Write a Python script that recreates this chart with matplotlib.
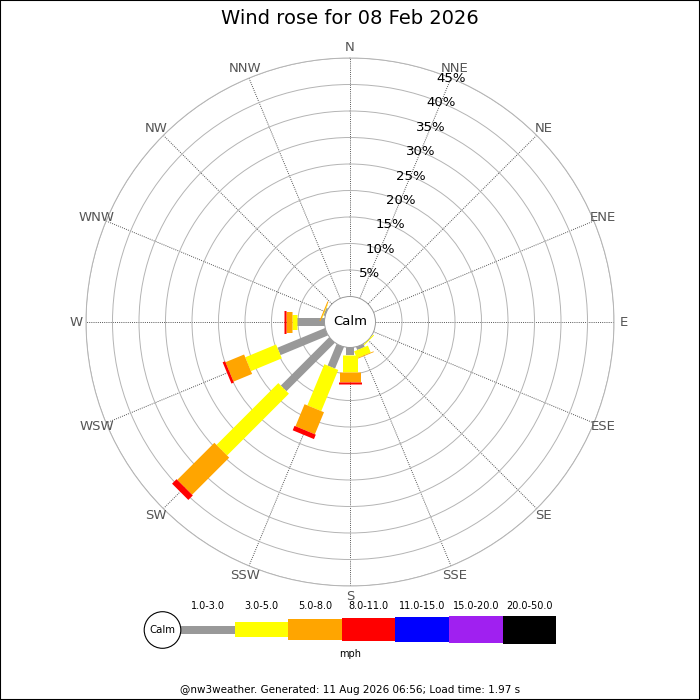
"""Wind rose for 08 Feb 2026, redrawn with matplotlib."""
import matplotlib

matplotlib.use("Agg")
import matplotlib.pyplot as plt
import numpy as np
from matplotlib.patches import Circle, Rectangle

# ---- data -------------------------------------------------------------
directions = ["N", "NNE", "NE", "ENE", "E", "ESE", "SE", "SSE",
              "S", "SSW", "SW", "WSW", "W", "WNW", "NW", "NNW"]
speed_bins = ["1.0-3.0", "3.0-5.0", "5.0-8.0", "8.0-11.0",
              "11.0-15.0", "15.0-20.0", "20.0-50.0"]
bin_colors = ["#999999", "#ffff00", "#ffa500", "#ff0000",
              "#0000ff", "#a020f0", "#000000"]

# percent of time per direction, one list per speed bin
pct_1_3 = [0, 0, 0, 0, 0, 0, 0.0, 0.6, 1.5, 4.4, 12.9, 9.7, 5.2, 0.3, 0, 0]
pct_3_5 = [0, 0, 0, 0, 0, 0, 0.2, 1.4, 3.2, 8.4, 16.5, 6.3, 1.0, 0.1, 0, 0]
pct_5_8 = [0, 0, 0, 0, 0, 0, 0, 0.15, 1.9, 4.5, 9.9, 3.8, 1.0, 0.2, 0, 0]
pct_8_11 = [0, 0, 0, 0, 0, 0, 0, 0, 0.3, 0.9, 1.2, 0.5, 0.5, 0, 0, 0]
pct_11_15 = [0] * 16
pct_15_20 = [0] * 16
pct_20_50 = [0] * 16

ring_pcts = [5, 10, 15, 20, 25, 30, 35, 40, 45]
title = "Wind rose for 08 Feb 2026"
footer = "@nw3weather. Generated: 11 Aug 2026 06:56; Load time: 1.97 s"

# ---- figure -----------------------------------------------------------
fig = plt.figure(figsize=(7, 7), dpi=100)
fig.patches.append(Rectangle((0, 0), 1, 1, transform=fig.transFigure,
                             fill=False, edgecolor="black", lw=1.5))

ax = fig.add_axes([86 / 700, 114 / 700, 528 / 700, 528 / 700],
                  projection="polar")
ax.set_theta_zero_location("N")
ax.set_theta_direction(-1)
ax.set_ylim(0, 45)
ax.set_rorigin(-4.81)

thetas = np.deg2rad(np.arange(16) * 22.5)
ax.set_xticks(thetas)
ax.set_xticklabels([])
ax.set_yticks(ring_pcts)
ax.set_yticklabels([])
ax.yaxis.grid(True, color="#b4b4b4", lw=0.7, ls="-")
ax.xaxis.grid(True, color="#555555", lw=0.7, ls=(0, (1, 1.2)))
ax.spines["polar"].set_color("#b4b4b4")
ax.spines["polar"].set_linewidth(0.7)
ax.spines["inner"].set_color("#999999")
ax.spines["inner"].set_linewidth(0.7)

# compass labels
for th, name in zip(thetas, directions):
    ax.text(th, 46.9, name, ha="center", va="center", fontsize=9.5,
            color="#555555", clip_on=False)

# percent labels along NNE
for p in ring_pcts:
    ax.text(np.deg2rad(22.5), p, f"{p}%", ha="center", va="center",
            fontsize=9.5, color="black", zorder=4)

# petals: stacked thick radial lines, wider for faster bins
all_bins = [pct_1_3, pct_3_5, pct_5_8, pct_8_11, pct_11_15, pct_15_20, pct_20_50]
widths_px = [8, 15, 21, 23, 25, 27, 28]
for i, th in enumerate(thetas):
    start = 0.0
    for vals, col, w in zip(all_bins, bin_colors, widths_px):
        v = vals[i]
        if v <= 0:
            continue
        ax.plot([th, th], [start, start + v], color=col, lw=w * 0.72,
                solid_capstyle="butt", zorder=3)
        start += v

ax.text(0.5, 0.5, "Calm", transform=ax.transAxes, ha="center", va="center",
        fontsize=9.5, zorder=5)

# ---- title, legend, footer -------------------------------------------
fig.text(0.5, 1 - 18 / 700, title, ha="center", va="center", fontsize=14)

lax = fig.add_axes([0, 0, 1, 1])
lax.set_xlim(0, 700)
lax.set_ylim(700, 0)
lax.axis("off")

leg_x0, leg_w, leg_y = 181, 53.6, 629.5
for k, (lab, col, h) in enumerate(zip(speed_bins, bin_colors, widths_px)):
    x = leg_x0 + k * leg_w
    lax.bar(x, h, width=leg_w, bottom=leg_y - h / 2, align="edge", color=col)
    lax.text(x + leg_w / 2, 606, lab, ha="center", va="center", fontsize=7)
lax.add_patch(Circle((162.5, 630), 18.3, facecolor="white",
                     edgecolor="black", lw=0.8, zorder=3))
lax.text(162.5, 630, "Calm", ha="center", va="center", fontsize=7.3, zorder=4)
lax.text(350, 654, "mph", ha="center", va="center", fontsize=7)
lax.text(350, 690, footer, ha="center", va="center", fontsize=7.5)

fig.savefig("out.png", dpi=100)
